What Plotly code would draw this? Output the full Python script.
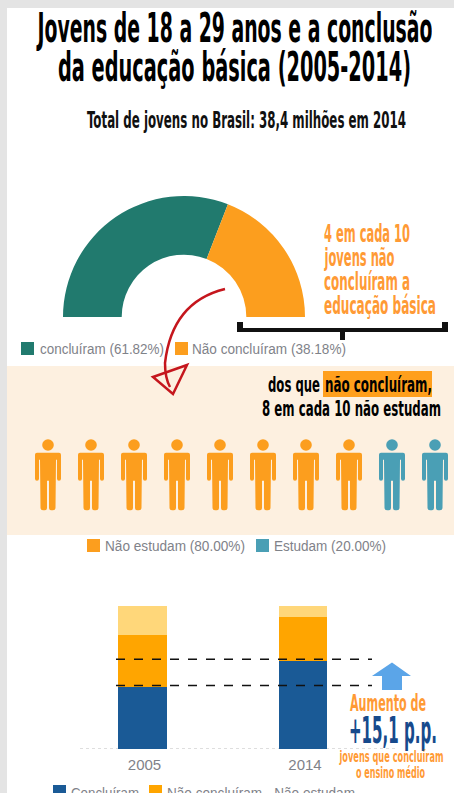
import json
import plotly.graph_objects as go

W, H = 454, 793

# Data
pie_labels = ["concluíram", "Não concluíram"]
pie_values = [61.82, 38.18]
study_labels = ["Não estudam", "Estudam"]
study_values = [80.00, 20.00]
study_people = [8, 2]
bar_years = ["2005", "2014"]
bar_concluiram = [43.4, 61.8]
bar_nao_nao_estudam = [36.6, 30.7]
bar_nao_estudam = [20.0, 7.5]
bar_names = ["Concluíram", "Não concluíram - Não estudam", "Não concluíram - Estudam"]

TEAL, ORANGE, PEOPLE_BLUE = "#217A6E", "#FC9E1E", "#4A9FB5"
BAR_BLUE, BAR_ORANGE, BAR_LIGHT = "#1A5A96", "#FFA500", "#FFD77A"
GRAY, TXT_ORANGE, NAVY, RED = "#7F8289", "#FF9A35", "#174A8C", "#C5161D"
NARROW = "Liberation Sans Narrow, DejaVu Sans Condensed, sans-serif"
ARIAL = "Liberation Sans, Arial, sans-serif"


def px(x):
    return x / W


def py(y):
    return 1 - y / H


fig = go.Figure()

# Semi-donut
fig.add_trace(go.Pie(
    labels=pie_labels + [""], values=pie_values + [sum(pie_values)], sort=False,
    direction="clockwise", rotation=270, hole=0.515, textinfo="none", hoverinfo="skip",
    marker=dict(colors=[TEAL, ORANGE, "rgba(0,0,0,0)"], line=dict(width=0)),
    domain=dict(x=[px(63), px(305)], y=[py(438), py(196)]), showlegend=False,
))

# Stacked bars
for name, vals, col in zip(bar_names, [bar_concluiram, bar_nao_nao_estudam, bar_nao_estudam],
                           [BAR_BLUE, BAR_ORANGE, BAR_LIGHT]):
    fig.add_trace(go.Bar(x=bar_years, y=vals, name=name, marker=dict(color=col, line=dict(width=0)),
                         width=0.3, showlegend=False, hoverinfo="skip"))

shapes, annos, widths = [], [], []


def rect(x0, y0, x1, y1, col, layer="above"):
    shapes.append(dict(type="rect", xref="paper", yref="paper", x0=px(x0), x1=px(x1),
                       y0=py(y0), y1=py(y1), fillcolor=col, line=dict(width=0), layer=layer))


def path(pts, **kw):
    d = ""
    for cmd, *c in pts:
        d += cmd + " ".join(
            f"{px(v) if i % 2 == 0 else py(v):.5f}" for i, v in enumerate(c)) + " "
    d += kw.pop("close", "")
    shapes.append(dict(type="path", xref="paper", yref="paper", path=d, **kw))


def text(s, x0, x1, cy, size, col, family=NARROW, bold=True):
    annos.append(dict(text=s, x=px((x0 + x1) / 2), y=py(cy), xref="paper", yref="paper",
                      xanchor="center", yanchor="middle", showarrow=False, width=x1 - x0 + 2,
                      font=dict(family=family, size=size, color=col, weight=700 if bold else 400)))
    widths.append(x1 - x0)


# Page frame and bands
rect(0, 0, W, 8, "#E4E4E4", "below")
rect(0, 0, 7, H, "#E4E4E4", "below")
rect(7, 366, W, 535, "#FDF0E0", "below")
rect(323, 371, 432, 397, "#FF9F1C", "below")

# Titles
text("Jovens de 18 a 29 anos e a conclusão", 36, 431, 28, 40, "#000000")
text("da educação básica (2005-2014)", 58, 411, 67, 40, "#000000")
text("Total de jovens no Brasil: 38,4 milhões em 2014", 87, 406, 120, 23, "#111111")

# Orange call-out and bracket
text("4 em cada 10", 324, 410, 234, 24, TXT_ORANGE)
text("jovens não", 324, 394, 258, 24, TXT_ORANGE)
text("concluíram a", 324, 410, 282, 24, TXT_ORANGE)
text("educação básica", 324, 436, 306, 24, TXT_ORANGE)
rect(238, 328, 448, 332, "#111111")
rect(237, 322, 243, 332, "#111111")
rect(442, 322, 448, 332, "#111111")
rect(340, 328, 345, 340, "#111111")

# Pie legend
x_sq = [21, 175]
x_tx = [(40, 164), (192, 346)]
for lab, val, col, sq, tx in zip(pie_labels, pie_values, [TEAL, ORANGE], x_sq, x_tx):
    rect(sq, 342, sq + 13, 355, col)
    text(f"{lab} ({val:.2f}%)", tx[0], tx[1], 349, 14, GRAY, ARIAL, False)

# Red hand-drawn arrow
path([("M", 225, 289), ("Q", 172, 302, 165, 363), ("Q", 165, 378, 170, 387)],
     line=dict(color=RED, width=2.5), fillcolor="rgba(0,0,0,0)")
path([("M", 153, 377), ("L", 187, 365), ("L", 173, 394)], close="Z",
     line=dict(color=RED, width=2.5), fillcolor="rgba(0,0,0,0)")

# Highlighted sentence
text("dos que", 268, 320, 384, 22, "#000000")
text("não concluíram,", 325, 432, 384, 22, "#000000")
text("8 em cada 10 não estudam", 262, 441, 408, 22, "#000000")

# Pictogram
person_cols = [ORANGE] * study_people[0] + [PEOPLE_BLUE] * study_people[1]
for i, col in enumerate(person_cols):
    c = 48 + 43 * i
    t = 452.7
    shapes.append(dict(type="circle", xref="paper", yref="paper", x0=px(c - 5.8), x1=px(c + 5.8),
                       y0=py(445 - 5.8), y1=py(445 + 5.8), fillcolor=col, line=dict(width=0)))
    half = [("L", 11, 0), ("Q", 13, 0, 13, 2), ("L", 13, 26), ("Q", 13, 28, 11, 28),
            ("Q", 9, 28, 9, 26), ("L", 9, 7), ("L", 8, 7), ("L", 7.5, 55),
            ("Q", 7.5, 57.5, 5, 57.5), ("L", 3, 57.5), ("Q", 1, 57.5, 1, 55), ("L", 1, 28)]
    pts = [("M", c - 11, t)]
    for cmd, *v in half:
        pts.append((cmd, *[c + a if k % 2 == 0 else t + a for k, a in enumerate(v)]))
    pts.append(("L", c - 1, t + 28))
    pts += [("L", c - 1, t + 55), ("Q", c - 1, t + 57.5, c - 3, t + 57.5), ("L", c - 5, t + 57.5),
            ("Q", c - 7.5, t + 57.5, c - 7.5, t + 55), ("L", c - 8, t + 7), ("L", c - 9, t + 7),
            ("L", c - 9, t + 26), ("Q", c - 9, t + 28, c - 11, t + 28),
            ("Q", c - 13, t + 28, c - 13, t + 26), ("L", c - 13, t + 2), ("Q", c - 13, t, c - 11, t)]
    path(pts, close="Z", fillcolor=col, line=dict(width=0))

# People legend
for lab, val, col, sq, tx in zip(study_labels, study_values, [ORANGE, PEOPLE_BLUE], [87, 256],
                                 [(105, 245), (274, 386)]):
    rect(sq, 539, sq + 13, 552, col)
    text(f"{lab} ({val:.2f}%)", tx[0], tx[1], 546, 14, GRAY, ARIAL, False)

# Bar baseline and guides
shapes.append(dict(type="line", xref="paper", yref="y", x0=px(80), x1=px(398), y0=0, y1=0,
                   line=dict(color="#BDBDBD", width=1, dash="dot"), layer="below"))
for v in bar_concluiram:
    shapes.append(dict(type="line", xref="paper", yref="y", x0=px(116), x1=px(372), y0=v + 1, y1=v + 1,
                       line=dict(color="#111111", width=1.5, dash="dash")))

# Up arrow
path([("M", 392, 662.5), ("L", 411, 676), ("L", 402, 676), ("L", 402, 690), ("L", 382, 690),
      ("L", 382, 676), ("L", 372, 676)], close="Z", fillcolor="#5BA5E8", line=dict(width=0))

# Bar call-out
text("Aumento de", 350, 426, 703, 23, TXT_ORANGE)
text("+15,1 p.p.", 349, 437, 730, 38, NAVY)
text("jovens que concluíram", 339, 443, 757, 15, TXT_ORANGE)
text("o ensino médio", 356, 425, 773, 15, TXT_ORANGE)

# Bar legend (cropped by the page edge in the reference)
rect(53, 785, 66, 800, BAR_BLUE)
rect(149, 785, 162, 800, BAR_ORANGE)
text(bar_names[0], 71, 139, 793.5, 14, GRAY, ARIAL, False)
text(bar_names[1], 167, 355, 793.5, 14, GRAY, ARIAL, False)

fig.update_layout(
    width=W, height=H, margin=dict(l=0, r=0, t=0, b=0), paper_bgcolor="white", plot_bgcolor="rgba(0,0,0,0)",
    barmode="stack", showlegend=False, shapes=shapes, annotations=annos,
    xaxis=dict(domain=[px(62.25), px(383.25)], type="category", range=[-0.5, 1.5], showgrid=False,
               showline=False, zeroline=False, ticks="", tickfont=dict(family=ARIAL, size=15, color=GRAY),
               ticklabelshift=2, ticklabelstandoff=5),
    yaxis=dict(domain=[py(749), py(606)], range=[0, 100], visible=False, showgrid=False, zeroline=False),
    hovermode=False,
)

post = """
document.body.style.margin='0';document.documentElement.style.overflow='hidden';
var gd=document.getElementById('{plot_id}');
var w=%s;
gd.querySelectorAll('.annotation-text').forEach(function(t,i){
  if(w[i]){t.setAttribute('textLength',w[i]);t.setAttribute('lengthAdjust','spacingAndGlyphs');}
});
""" % json.dumps(widths)
fig.write_html("out.html", post_script=post, config=dict(displayModeBar=False, responsive=False))
